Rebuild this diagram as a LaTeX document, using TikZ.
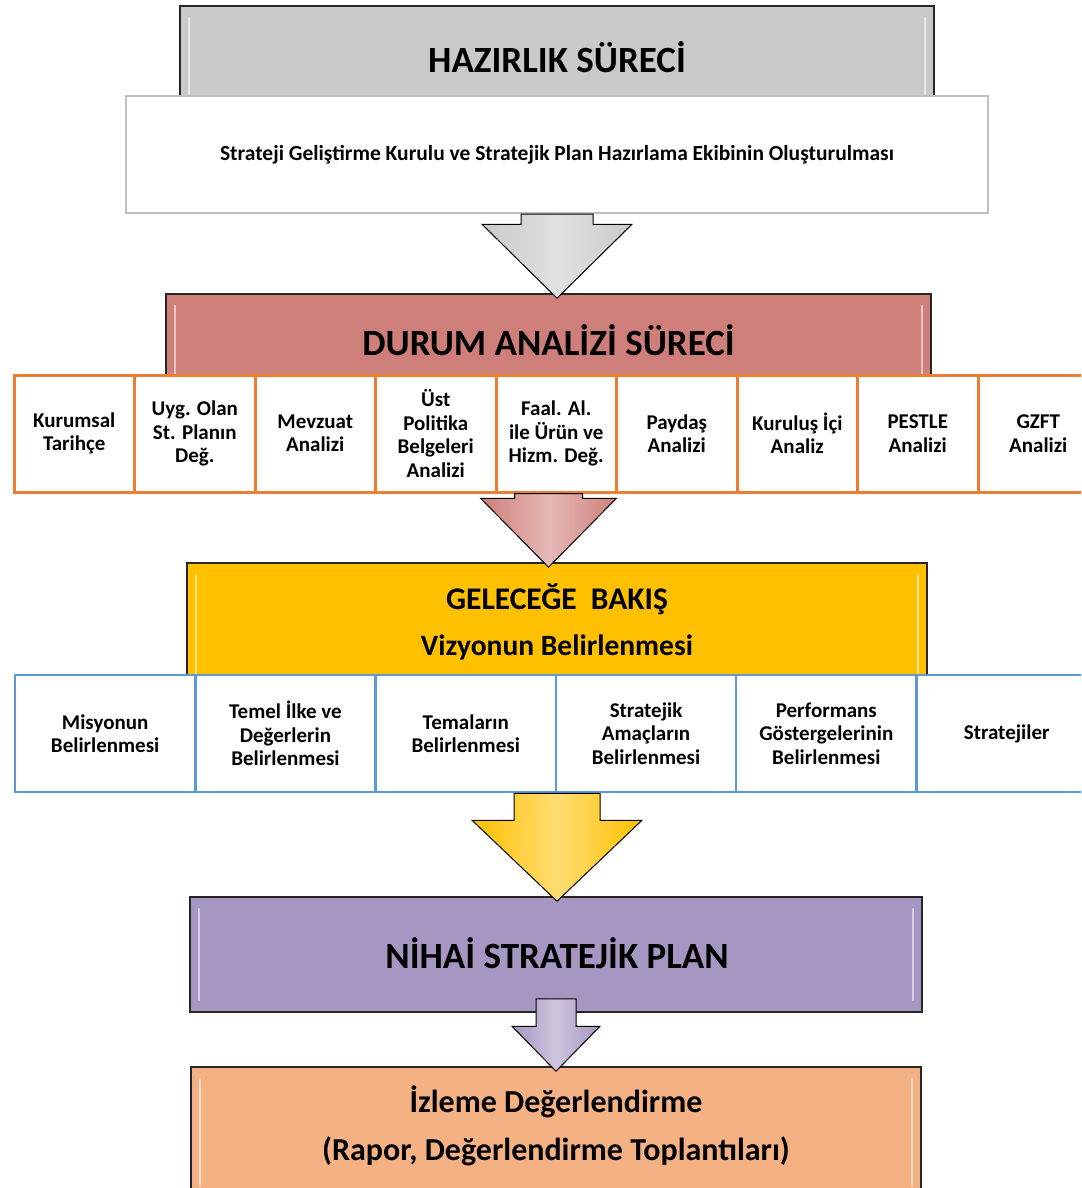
\documentclass[tikz,border=0pt]{standalone}
\usepackage{fontspec}
\setmainfont{Carlito}
\usetikzlibrary{calc}
\definecolor{hazgray}{RGB}{201,201,201}
\definecolor{frameGray}{RGB}{191,191,191}
\definecolor{durumred}{RGB}{207,127,122}
\definecolor{gelyellow}{RGB}{255,192,0}
\definecolor{nihpurple}{RGB}{166,150,194}
\definecolor{izpeach}{RGB}{244,177,131}
\definecolor{cellorange}{RGB}{237,125,49}
\definecolor{cellblue}{RGB}{91,155,213}
\tikzset{
  bevel/.style={path picture={
    \draw[white,opacity=0.55,line width=2.5pt,line cap=round]
      ([xshift=9pt,yshift=-12pt]path picture bounding box.north west) -- ([xshift=9pt,yshift=12pt]path picture bounding box.south west)
      ([xshift=-9pt,yshift=-12pt]path picture bounding box.north east) -- ([xshift=-9pt,yshift=12pt]path picture bounding box.south east);}},
  stagebox/.style={draw=black!85,line width=1.5pt,inner sep=0pt,bevel},
  titletext/.style={font=\fontsize{#1}{#1}\selectfont\bfseries,inner sep=0pt},
  orcell/.style={draw=cellorange,line width=3pt,fill=white,minimum width=120.5pt,minimum height=117pt,
    inner sep=0pt,align=center,font=\fontsize{21}{23.5}\selectfont\bfseries},
  blcell/.style={orcell,draw=cellblue,line width=2.5pt,minimum width=180.3pt},
  arrowshape/.style={draw=black,line width=1pt,line join=miter}
}
\newcommand{\blockarrow}[6]{%
  \draw[arrowshape,left color=#1,right color=#1,middle color=#1!55!white]
    let \p1=(#2), \p2=(#3.north) in
    (\x1-#4pt,\y1) -- (\x1-#4pt,\y2-5pt+#6pt) -- (\x1-#5pt,\y2-5pt+#6pt)
    -- (\x1,\y2-5pt) -- (\x1+#5pt,\y2-5pt+#6pt) -- (\x1+#4pt,\y2-5pt+#6pt)
    -- (\x1+#4pt,\y1) -- cycle;}
\begin{document}
\begin{tikzpicture}[x=1pt,y=-1pt]
\useasboundingbox (0,0) rectangle (1081,1188);
\fill[white] (0,0) rectangle (1081,1188);
\clip (0,0) rectangle (1081,1188);

% main stages
\node[stagebox,fill=hazgray,minimum width=754pt,minimum height=124pt] (gray) at (557,68) {};
\node[titletext=37] (haztitle) at (557,57) {HAZIRLIK SÜRECİ};
\node[draw=frameGray,line width=2pt,fill=white,minimum width=862pt,minimum height=117pt,
  font=\fontsize{21.5}{24}\selectfont\bfseries] (white) at (557,154.5)
  {Strateji Geliştirme Kurulu ve Stratejik Plan Hazırlama Ekibinin Oluşturulması};

\node[stagebox,fill=durumred,minimum width=765pt,minimum height=106pt] (red) at (548.5,347) {};
\node[titletext=37] (durtitle) at (548.5,340) {DURUM ANALİZİ SÜRECİ};
\foreach \txt [count=\i] in {{Kurumsal\\Tarihçe},{Uyg. Olan\\St. Planın\\Değ.},{Mevzuat\\Analizi},
  {Üst\\Politika\\Belgeleri\\Analizi},{Faal. Al.\\ile Ürün ve\\Hizm. Değ.},{Paydaş\\Analizi},
  {Kuruluş İçi\\Analiz},{PESTLE\\Analizi},{GZFT\\Analizi}}
  \node[orcell] (or\i) at ({14+120.5*(\i-0.5)},433.5) {\txt};

\node[stagebox,fill=gelyellow,minimum width=740pt,minimum height=127pt] (yellow) at (557,626.5) {};
\node[titletext=31.5] (geltitle) at (557,599) {GELECEĞE\ \ BAKIŞ};
\node[titletext=29.5] (vizyon) at (557,647) {Vizyonun Belirlenmesi};
\foreach \txt [count=\i] in {{Misyonun\\Belirlenmesi},{Temel İlke ve\\Değerlerin\\Belirlenmesi},
  {Temaların\\Belirlenmesi},{Stratejik\\Amaçların\\Belirlenmesi},
  {Performans\\Göstergelerinin\\Belirlenmesi},{Stratejiler}}
  \node[blcell] (bl\i) at ({15+180.3*(\i-0.5)},733.5) {\txt};

\node[stagebox,fill=nihpurple,minimum width=732pt,minimum height=115pt] (purple) at (556,954.5) {};
\node[titletext=37] (nihtitle) at (557,953) {NİHAİ STRATEJİK PLAN};

\node[stagebox,fill=izpeach,minimum width=730pt,minimum height=130pt] (peach) at (556,1132) {};
\node[titletext=32] (izleme) at (556,1102) {İzleme Değerlendirme};
\node[titletext=32] (rapor) at (556,1151) {(Rapor, Değerlendirme Toplantıları)};

% arrows between stages
\blockarrow{hazgray}{white.south}{red}{36}{75}{74}
\blockarrow{durumred}{red.center |- or5.south}{yellow}{34}{68}{69}
\blockarrow{gelyellow}{yellow.center |- bl1.south}{purple}{43}{85}{81}
\blockarrow{nihpurple}{$(purple.south)+(0,-14)$}{peach}{20}{44}{45}
\end{tikzpicture}
\end{document}
